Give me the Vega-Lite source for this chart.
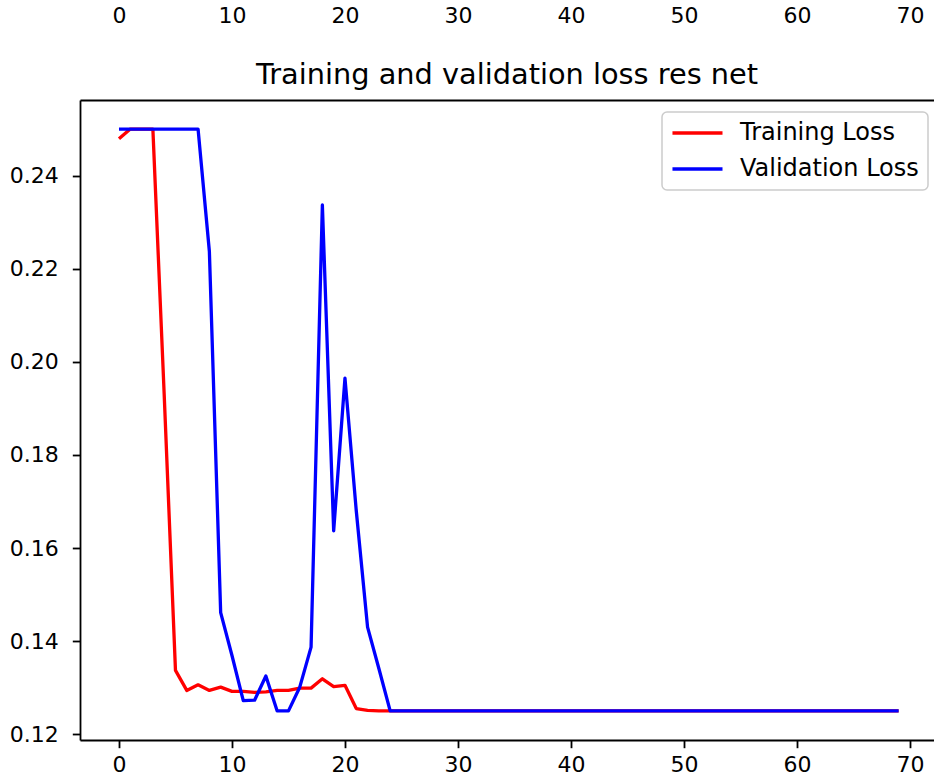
{
  "$schema": "https://vega.github.io/schema/vega-lite/v6.json",
  "autosize": {"type": "none"},
  "padding": {"left": 80, "top": 100, "right": 0, "bottom": 40},
  "width": 854,
  "height": 640,
  "background": "white",
  "title": {
    "text": "Training and validation loss res net",
    "font": "DejaVu Sans",
    "fontSize": 28.8,
    "fontWeight": "normal",
    "color": "#000000",
    "anchor": "middle",
    "frame": "group",
    "offset": -86
  },
  "config": {
    "view": {"stroke": null},
    "font": "DejaVu Sans",
    "axis": {
      "labelFont": "DejaVu Sans",
      "labelFontSize": 22,
      "labelColor": "#000000",
      "tickColor": "#000000",
      "tickWidth": 1.8,
      "tickSize": 7.7,
      "domainColor": "#000000",
      "domainWidth": 1.8,
      "grid": false,
      "title": null,
      "labelFlush": false,
      "labelOverlap": false
    },
    "legend": {
      "orient": "none",
      "legendX": 582,
      "legendY": 12,
      "title": null,
      "symbolType": "M-1.8,0H6.75",
      "symbolStrokeWidth": 3.3,
      "symbolSize": 137,
      "labelFont": "DejaVu Sans",
      "labelFontSize": 24,
      "labelColor": "#000000",
      "labelOffset": 45,
      "labelLimit": 400,
      "padding": 9,
      "rowPadding": 12,
      "strokeColor": "#cccccc",
      "strokeWidth": 1.5,
      "fillColor": "#ffffff",
      "cornerRadius": 5
    }
  },
  "data": {
    "values": [
      {"epoch": 0, "loss": 0.2479, "series": "Training Loss"},
      {"epoch": 1, "loss": 0.25, "series": "Training Loss"},
      {"epoch": 2, "loss": 0.25, "series": "Training Loss"},
      {"epoch": 3, "loss": 0.25, "series": "Training Loss"},
      {"epoch": 4, "loss": 0.193, "series": "Training Loss"},
      {"epoch": 5, "loss": 0.1337, "series": "Training Loss"},
      {"epoch": 6, "loss": 0.1294, "series": "Training Loss"},
      {"epoch": 7, "loss": 0.1306, "series": "Training Loss"},
      {"epoch": 8, "loss": 0.1294, "series": "Training Loss"},
      {"epoch": 9, "loss": 0.1301, "series": "Training Loss"},
      {"epoch": 10, "loss": 0.1292, "series": "Training Loss"},
      {"epoch": 11, "loss": 0.1292, "series": "Training Loss"},
      {"epoch": 12, "loss": 0.129, "series": "Training Loss"},
      {"epoch": 13, "loss": 0.1291, "series": "Training Loss"},
      {"epoch": 14, "loss": 0.1294, "series": "Training Loss"},
      {"epoch": 15, "loss": 0.1294, "series": "Training Loss"},
      {"epoch": 16, "loss": 0.1299, "series": "Training Loss"},
      {"epoch": 17, "loss": 0.1299, "series": "Training Loss"},
      {"epoch": 18, "loss": 0.1319, "series": "Training Loss"},
      {"epoch": 19, "loss": 0.1302, "series": "Training Loss"},
      {"epoch": 20, "loss": 0.1305, "series": "Training Loss"},
      {"epoch": 21, "loss": 0.1255, "series": "Training Loss"},
      {"epoch": 22, "loss": 0.1251, "series": "Training Loss"},
      {"epoch": 23, "loss": 0.125, "series": "Training Loss"},
      {"epoch": 24, "loss": 0.125, "series": "Training Loss"},
      {"epoch": 25, "loss": 0.125, "series": "Training Loss"},
      {"epoch": 26, "loss": 0.125, "series": "Training Loss"},
      {"epoch": 27, "loss": 0.125, "series": "Training Loss"},
      {"epoch": 28, "loss": 0.125, "series": "Training Loss"},
      {"epoch": 29, "loss": 0.125, "series": "Training Loss"},
      {"epoch": 30, "loss": 0.125, "series": "Training Loss"},
      {"epoch": 31, "loss": 0.125, "series": "Training Loss"},
      {"epoch": 32, "loss": 0.125, "series": "Training Loss"},
      {"epoch": 33, "loss": 0.125, "series": "Training Loss"},
      {"epoch": 34, "loss": 0.125, "series": "Training Loss"},
      {"epoch": 35, "loss": 0.125, "series": "Training Loss"},
      {"epoch": 36, "loss": 0.125, "series": "Training Loss"},
      {"epoch": 37, "loss": 0.125, "series": "Training Loss"},
      {"epoch": 38, "loss": 0.125, "series": "Training Loss"},
      {"epoch": 39, "loss": 0.125, "series": "Training Loss"},
      {"epoch": 40, "loss": 0.125, "series": "Training Loss"},
      {"epoch": 41, "loss": 0.125, "series": "Training Loss"},
      {"epoch": 42, "loss": 0.125, "series": "Training Loss"},
      {"epoch": 43, "loss": 0.125, "series": "Training Loss"},
      {"epoch": 44, "loss": 0.125, "series": "Training Loss"},
      {"epoch": 45, "loss": 0.125, "series": "Training Loss"},
      {"epoch": 46, "loss": 0.125, "series": "Training Loss"},
      {"epoch": 47, "loss": 0.125, "series": "Training Loss"},
      {"epoch": 48, "loss": 0.125, "series": "Training Loss"},
      {"epoch": 49, "loss": 0.125, "series": "Training Loss"},
      {"epoch": 50, "loss": 0.125, "series": "Training Loss"},
      {"epoch": 51, "loss": 0.125, "series": "Training Loss"},
      {"epoch": 52, "loss": 0.125, "series": "Training Loss"},
      {"epoch": 53, "loss": 0.125, "series": "Training Loss"},
      {"epoch": 54, "loss": 0.125, "series": "Training Loss"},
      {"epoch": 55, "loss": 0.125, "series": "Training Loss"},
      {"epoch": 56, "loss": 0.125, "series": "Training Loss"},
      {"epoch": 57, "loss": 0.125, "series": "Training Loss"},
      {"epoch": 58, "loss": 0.125, "series": "Training Loss"},
      {"epoch": 59, "loss": 0.125, "series": "Training Loss"},
      {"epoch": 60, "loss": 0.125, "series": "Training Loss"},
      {"epoch": 61, "loss": 0.125, "series": "Training Loss"},
      {"epoch": 62, "loss": 0.125, "series": "Training Loss"},
      {"epoch": 63, "loss": 0.125, "series": "Training Loss"},
      {"epoch": 64, "loss": 0.125, "series": "Training Loss"},
      {"epoch": 65, "loss": 0.125, "series": "Training Loss"},
      {"epoch": 66, "loss": 0.125, "series": "Training Loss"},
      {"epoch": 67, "loss": 0.125, "series": "Training Loss"},
      {"epoch": 68, "loss": 0.125, "series": "Training Loss"},
      {"epoch": 69, "loss": 0.125, "series": "Training Loss"},
      {"epoch": 0, "loss": 0.25, "series": "Validation Loss"},
      {"epoch": 1, "loss": 0.25, "series": "Validation Loss"},
      {"epoch": 2, "loss": 0.25, "series": "Validation Loss"},
      {"epoch": 3, "loss": 0.25, "series": "Validation Loss"},
      {"epoch": 4, "loss": 0.25, "series": "Validation Loss"},
      {"epoch": 5, "loss": 0.25, "series": "Validation Loss"},
      {"epoch": 6, "loss": 0.25, "series": "Validation Loss"},
      {"epoch": 7, "loss": 0.25, "series": "Validation Loss"},
      {"epoch": 8, "loss": 0.2237, "series": "Validation Loss"},
      {"epoch": 9, "loss": 0.1461, "series": "Validation Loss"},
      {"epoch": 10, "loss": 0.1369, "series": "Validation Loss"},
      {"epoch": 11, "loss": 0.1272, "series": "Validation Loss"},
      {"epoch": 12, "loss": 0.1273, "series": "Validation Loss"},
      {"epoch": 13, "loss": 0.1325, "series": "Validation Loss"},
      {"epoch": 14, "loss": 0.125, "series": "Validation Loss"},
      {"epoch": 15, "loss": 0.125, "series": "Validation Loss"},
      {"epoch": 16, "loss": 0.1301, "series": "Validation Loss"},
      {"epoch": 17, "loss": 0.1387, "series": "Validation Loss"},
      {"epoch": 18, "loss": 0.2337, "series": "Validation Loss"},
      {"epoch": 19, "loss": 0.1637, "series": "Validation Loss"},
      {"epoch": 20, "loss": 0.1965, "series": "Validation Loss"},
      {"epoch": 21, "loss": 0.168, "series": "Validation Loss"},
      {"epoch": 22, "loss": 0.143, "series": "Validation Loss"},
      {"epoch": 23, "loss": 0.1341, "series": "Validation Loss"},
      {"epoch": 24, "loss": 0.125, "series": "Validation Loss"},
      {"epoch": 25, "loss": 0.125, "series": "Validation Loss"},
      {"epoch": 26, "loss": 0.125, "series": "Validation Loss"},
      {"epoch": 27, "loss": 0.125, "series": "Validation Loss"},
      {"epoch": 28, "loss": 0.125, "series": "Validation Loss"},
      {"epoch": 29, "loss": 0.125, "series": "Validation Loss"},
      {"epoch": 30, "loss": 0.125, "series": "Validation Loss"},
      {"epoch": 31, "loss": 0.125, "series": "Validation Loss"},
      {"epoch": 32, "loss": 0.125, "series": "Validation Loss"},
      {"epoch": 33, "loss": 0.125, "series": "Validation Loss"},
      {"epoch": 34, "loss": 0.125, "series": "Validation Loss"},
      {"epoch": 35, "loss": 0.125, "series": "Validation Loss"},
      {"epoch": 36, "loss": 0.125, "series": "Validation Loss"},
      {"epoch": 37, "loss": 0.125, "series": "Validation Loss"},
      {"epoch": 38, "loss": 0.125, "series": "Validation Loss"},
      {"epoch": 39, "loss": 0.125, "series": "Validation Loss"},
      {"epoch": 40, "loss": 0.125, "series": "Validation Loss"},
      {"epoch": 41, "loss": 0.125, "series": "Validation Loss"},
      {"epoch": 42, "loss": 0.125, "series": "Validation Loss"},
      {"epoch": 43, "loss": 0.125, "series": "Validation Loss"},
      {"epoch": 44, "loss": 0.125, "series": "Validation Loss"},
      {"epoch": 45, "loss": 0.125, "series": "Validation Loss"},
      {"epoch": 46, "loss": 0.125, "series": "Validation Loss"},
      {"epoch": 47, "loss": 0.125, "series": "Validation Loss"},
      {"epoch": 48, "loss": 0.125, "series": "Validation Loss"},
      {"epoch": 49, "loss": 0.125, "series": "Validation Loss"},
      {"epoch": 50, "loss": 0.125, "series": "Validation Loss"},
      {"epoch": 51, "loss": 0.125, "series": "Validation Loss"},
      {"epoch": 52, "loss": 0.125, "series": "Validation Loss"},
      {"epoch": 53, "loss": 0.125, "series": "Validation Loss"},
      {"epoch": 54, "loss": 0.125, "series": "Validation Loss"},
      {"epoch": 55, "loss": 0.125, "series": "Validation Loss"},
      {"epoch": 56, "loss": 0.125, "series": "Validation Loss"},
      {"epoch": 57, "loss": 0.125, "series": "Validation Loss"},
      {"epoch": 58, "loss": 0.125, "series": "Validation Loss"},
      {"epoch": 59, "loss": 0.125, "series": "Validation Loss"},
      {"epoch": 60, "loss": 0.125, "series": "Validation Loss"},
      {"epoch": 61, "loss": 0.125, "series": "Validation Loss"},
      {"epoch": 62, "loss": 0.125, "series": "Validation Loss"},
      {"epoch": 63, "loss": 0.125, "series": "Validation Loss"},
      {"epoch": 64, "loss": 0.125, "series": "Validation Loss"},
      {"epoch": 65, "loss": 0.125, "series": "Validation Loss"},
      {"epoch": 66, "loss": 0.125, "series": "Validation Loss"},
      {"epoch": 67, "loss": 0.125, "series": "Validation Loss"},
      {"epoch": 68, "loss": 0.125, "series": "Validation Loss"},
      {"epoch": 69, "loss": 0.125, "series": "Validation Loss"}
    ]
  },
  "layer": [
    {
      "mark": {"type": "line", "strokeWidth": 3.3, "strokeJoin": "round"},
      "encoding": {
        "x": {
          "field": "epoch",
          "type": "quantitative",
          "scale": {"domain": [-3.45, 72.13], "nice": false, "zero": false},
          "axis": {"orient": "bottom", "values": [0, 10, 20, 30, 40, 50, 60, 70], "format": "d", "labelPadding": 7}
        },
        "y": {
          "field": "loss",
          "type": "quantitative",
          "scale": {"domain": [0.11875, 0.25625], "nice": false, "zero": false},
          "axis": {"orient": "left", "values": [0.12, 0.14, 0.16, 0.18, 0.2, 0.22, 0.24], "format": ".2f", "labelPadding": 14}
        },
        "color": {
          "field": "series",
          "type": "nominal",
          "scale": {"domain": ["Training Loss", "Validation Loss"], "range": ["#ff0000", "#0000ff"]}
        }
      }
    },
    {
      "mark": {"type": "line", "strokeOpacity": 0},
      "encoding": {
        "x": {
          "field": "epoch",
          "type": "quantitative",
          "axis": {"orient": "top", "values": [0, 10, 20, 30, 40, 50, 60, 70], "format": "d", "ticks": false, "tickSize": 0, "labelPadding": 78, "labelBaseline": "alphabetic"}
        },
        "y": {"field": "loss", "type": "quantitative"},
        "detail": {"field": "series", "type": "nominal"}
      }
    }
  ],
  "resolve": {"axis": {"x": "independent"}}
}
